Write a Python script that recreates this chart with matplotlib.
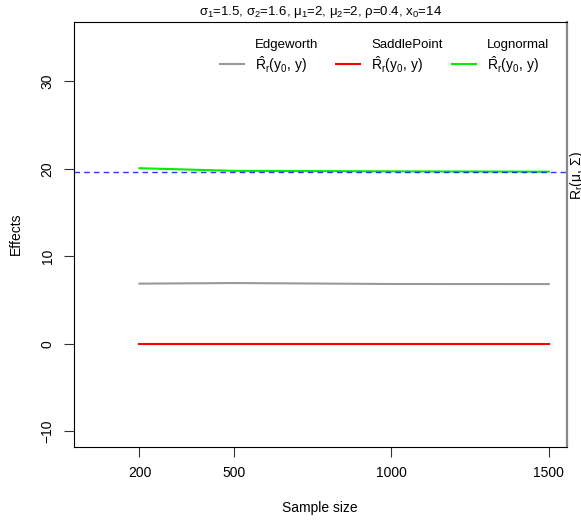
import matplotlib.pyplot as plt
import numpy as np

plt.rcParams['font.family'] = ['Liberation Sans', 'DejaVu Sans']
plt.rcParams['mathtext.fontset'] = 'custom'
plt.rcParams['mathtext.rm'] = 'Liberation Sans'
plt.rcParams['mathtext.it'] = 'Liberation Sans'
plt.rcParams['mathtext.bf'] = 'Liberation Sans:bold'

# data
sample_size = [200, 500, 1000, 1500]
edgeworth = [6.88, 6.95, 6.84, 6.83]
saddlepoint = [0.02, 0.02, 0.02, 0.02]
lognormal = [20.08, 19.78, 19.72, 19.68]
true_value = 19.6

x_ticks = [200, 500, 1000, 1500]
y_ticks = [-10, 0, 10, 20, 30]

fig = plt.figure(figsize=(5.81, 5.2), dpi=100)
ax = fig.add_axes([74/581, 1-447/520, (567-74)/581, (447-22)/520])

ax.plot(sample_size, edgeworth, color='#999999', lw=1.5)
ax.plot(sample_size, saddlepoint, color='red', lw=1.5)
ax.plot(sample_size, lognormal, color='#00ee00', lw=1.5)
ax.axhline(true_value, color='blue', lw=1, ls=(0, (4, 3)), alpha=0.8)

ax.set_xlim(-8, 1558)
ax.set_ylim(-11.8, 36.8)
ax.set_xticks(x_ticks)
ax.set_yticks(y_ticks)
ax.set_yticklabels([str(v).replace('-', '\u2212') for v in y_ticks], rotation=90, va='center')
ax.tick_params(labelsize=10, length=7, color='#333333', pad=7)
ax.spines['right'].set_color('#888888')
ax.spines['right'].set_linewidth(1.6)

fig.text(320/581, 1-508/520, 'Sample size', fontsize=10, ha='center', va='center')
fig.text(16/581, 1-234/520, 'Effects', fontsize=10, ha='center', va='center', rotation=90)
fig.text(321/581, 1-12/520,
         r'$\sigma_1$=1.5, $\sigma_2$=1.6, $\mu_1$=2, $\mu_2$=2, $\rho$=0.4, x$_0$=14',
         fontsize=9.5, ha='center', va='center')

# legend, drawn as three line + text pairs
names = ['Edgeworth', 'SaddlePoint', 'Lognormal']
colors = ['#999999', 'red', '#00ee00']
starts = [220, 336, 452]
for name, c, x0 in zip(names, colors, starts):
    fig.add_artist(plt.Line2D([x0/581, (x0+24)/581], [1-64/520, 1-64/520], color=c, lw=1.5))
    fig.text((x0+35)/581, 1-45/520, name, fontsize=9.5, va='center')
    fig.text((x0+35)/581, 1-65/520, r'$\hat{\mathrm{R}}_r(y_0,\, y)$', fontsize=10, va='center')

fig.text(577/581, 1-176/520, r'$\mathrm{R}_r(\mu,\,\Sigma)$', fontsize=10, rotation=90,
         va='center', ha='center')

fig.savefig('out.png', dpi=100)
